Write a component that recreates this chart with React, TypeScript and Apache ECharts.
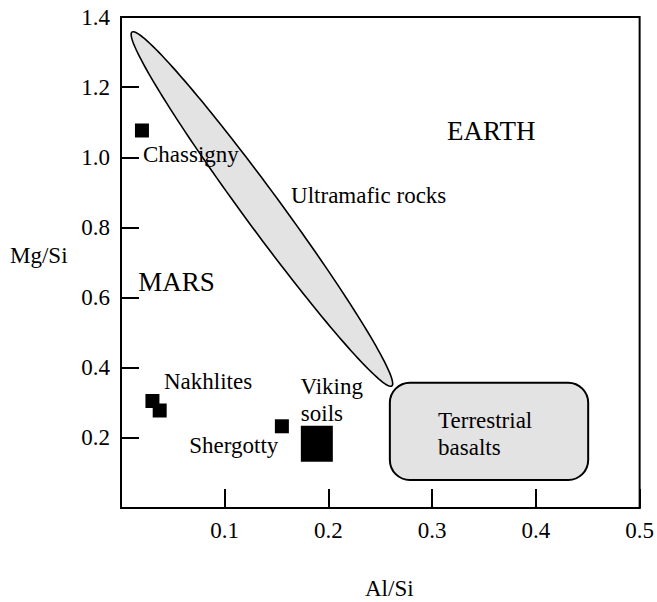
import React, { useEffect, useRef } from "react";
import * as echarts from "echarts";

// Point samples (Al/Si, Mg/Si)
const pointNames = ["Chassigny", "Nakhlites", "Nakhlites", "Shergotty"];
const pointX = [0.0202, 0.0303, 0.0373, 0.1551];
const pointY = [1.0764, 0.3051, 0.278, 0.233];
const vikingX = [0.1888];
const vikingY = [0.1833];

// Ultramafic rocks ellipse: long-axis end points
const ellipseEnds = [[0.0106, 1.357, 0.2611, 0.348]];
// Terrestrial basalts box: [xMin, yMax, xMax, yMin]
const basaltBox = [[0.2592, 0.357, 0.4504, 0.0798]];

// Annotation texts
const noteTexts = ["Chassigny", "Ultramafic rocks", "EARTH", "MARS", "Nakhlites", "Viking", "soils", "Shergotty", "Terrestrial", "basalts"];
const noteX = [0.0212, 0.164, 0.3144, 0.0167, 0.0414, 0.173, 0.1734, 0.0658, 0.3057, 0.3057];
const noteY = [1.0066, 0.890, 1.0755, 0.6457, 0.360, 0.347, 0.2697, 0.1774, 0.2486, 0.1728];
const noteBig = [false, false, true, true, false, false, false, false, false, false];

const xTicks = [0, 0.1, 0.2, 0.3, 0.4, 0.5];
const yTicks = [0, 0.2, 0.4, 0.6, 0.8, 1.0, 1.2, 1.4];

const FONT = "Liberation Serif";

export default function App() {
  const ref = useRef<HTMLDivElement>(null);
  useEffect(() => {
    document.body.style.margin = "0";
    const chart = echarts.init(ref.current!, null, { renderer: "svg" });
    const option: any = {
      animation: false,
      backgroundColor: "#fff",
      textStyle: { fontFamily: FONT },
      grid: { left: 121, top: 17, right: 17, bottom: 94, show: true, borderColor: "#000", borderWidth: 2, backgroundColor: "transparent" },
      xAxis: {
        type: "value",
        min: xTicks[0],
        max: xTicks[xTicks.length - 1],
        interval: 0.1,
        axisLine: { show: true, lineStyle: { color: "#000", width: 2 } },
        axisTick: { show: true, inside: true, length: 19, lineStyle: { color: "#000", width: 2 } },
        axisLabel: { margin: 11, color: "#000", fontSize: 23, fontFamily: FONT, formatter: (v: number) => (v === 0 ? "" : v.toFixed(1)) },
        splitLine: { show: false },
      },
      yAxis: {
        type: "value",
        min: yTicks[0],
        max: yTicks[yTicks.length - 1],
        interval: 0.2,
        axisLine: { show: true, lineStyle: { color: "#000", width: 2 } },
        axisTick: { show: true, inside: true, length: 18, lineStyle: { color: "#000", width: 2 } },
        axisLabel: { margin: 11, color: "#000", fontSize: 23, fontFamily: FONT, formatter: (v: number) => (v === 0 ? "" : v.toFixed(1)) },
        splitLine: { show: false },
      },
      graphic: [
        { type: "text", left: 10, top: 244, style: { text: "Mg/Si", fontSize: 23, fontFamily: FONT, fill: "#000" } },
        { type: "text", left: 365, top: 577, style: { text: "Al/Si", fontSize: 23, fontFamily: FONT, fill: "#000" } },
      ],
      series: [
        {
          type: "custom",
          coordinateSystem: "cartesian2d",
          clip: false,
          silent: true,
          z: 1,
          data: ellipseEnds,
          renderItem: (params: any, api: any) => {
            const p1 = api.coord([api.value(0), api.value(1)]);
            const p2 = api.coord([api.value(2), api.value(3)]);
            const cx = (p1[0] + p2[0]) / 2;
            const cy = (p1[1] + p2[1]) / 2;
            const dx = p2[0] - p1[0];
            const dy = p2[1] - p1[1];
            const a = Math.sqrt(dx * dx + dy * dy) / 2;
            const b = 18.5;
            const ang = Math.atan2(dy, dx);
            const pts: number[][] = [];
            for (let i = 0; i < 160; i++) {
              const t = (i / 160) * Math.PI * 2;
              const ex = a * Math.cos(t);
              const ey = b * Math.sin(t);
              pts.push([cx + ex * Math.cos(ang) - ey * Math.sin(ang), cy + ex * Math.sin(ang) + ey * Math.cos(ang)]);
            }
            return { type: "polygon", shape: { points: pts }, style: { fill: "#e3e3e3", stroke: "#000", lineWidth: 1.6 } };
          },
        },
        {
          type: "custom",
          coordinateSystem: "cartesian2d",
          clip: false,
          silent: true,
          z: 2,
          data: basaltBox,
          renderItem: (params: any, api: any) => {
            const p1 = api.coord([api.value(0), api.value(1)]);
            const p2 = api.coord([api.value(2), api.value(3)]);
            return {
              type: "rect",
              shape: { x: p1[0], y: p1[1], width: p2[0] - p1[0], height: p2[1] - p1[1], r: 20 },
              style: { fill: "#e3e3e3", stroke: "#000", lineWidth: 2 },
            };
          },
        },
        {
          type: "scatter",
          name: "samples",
          z: 3,
          symbol: "rect",
          symbolSize: 14,
          itemStyle: { color: "#000", opacity: 1 },
          data: pointX.map((x, i) => ({ name: pointNames[i], value: [x, pointY[i]] })),
        },
        {
          type: "scatter",
          name: "Viking soils",
          z: 3,
          symbol: "rect",
          symbolSize: [32, 36],
          itemStyle: { color: "#000", opacity: 1 },
          data: vikingX.map((x, i) => [x, vikingY[i]]),
        },
        {
          type: "custom",
          coordinateSystem: "cartesian2d",
          clip: false,
          silent: true,
          z: 5,
          data: noteX.map((x, i) => [x, noteY[i], i]),
          renderItem: (params: any, api: any) => {
            const p = api.coord([api.value(0), api.value(1)]);
            const idx = api.value(2);
            return {
              type: "text",
              x: p[0],
              y: p[1],
              style: {
                text: noteTexts[idx],
                fontSize: noteBig[idx] ? 27 : 23,
                fontFamily: FONT,
                fill: "#000",
                align: "left",
                verticalAlign: "middle",
              },
            };
          },
        },
      ],
    };
    chart.setOption(option);
    return () => chart.dispose();
  }, []);
  return <div ref={ref} style={{ width: 657, height: 602 }} />;
}
